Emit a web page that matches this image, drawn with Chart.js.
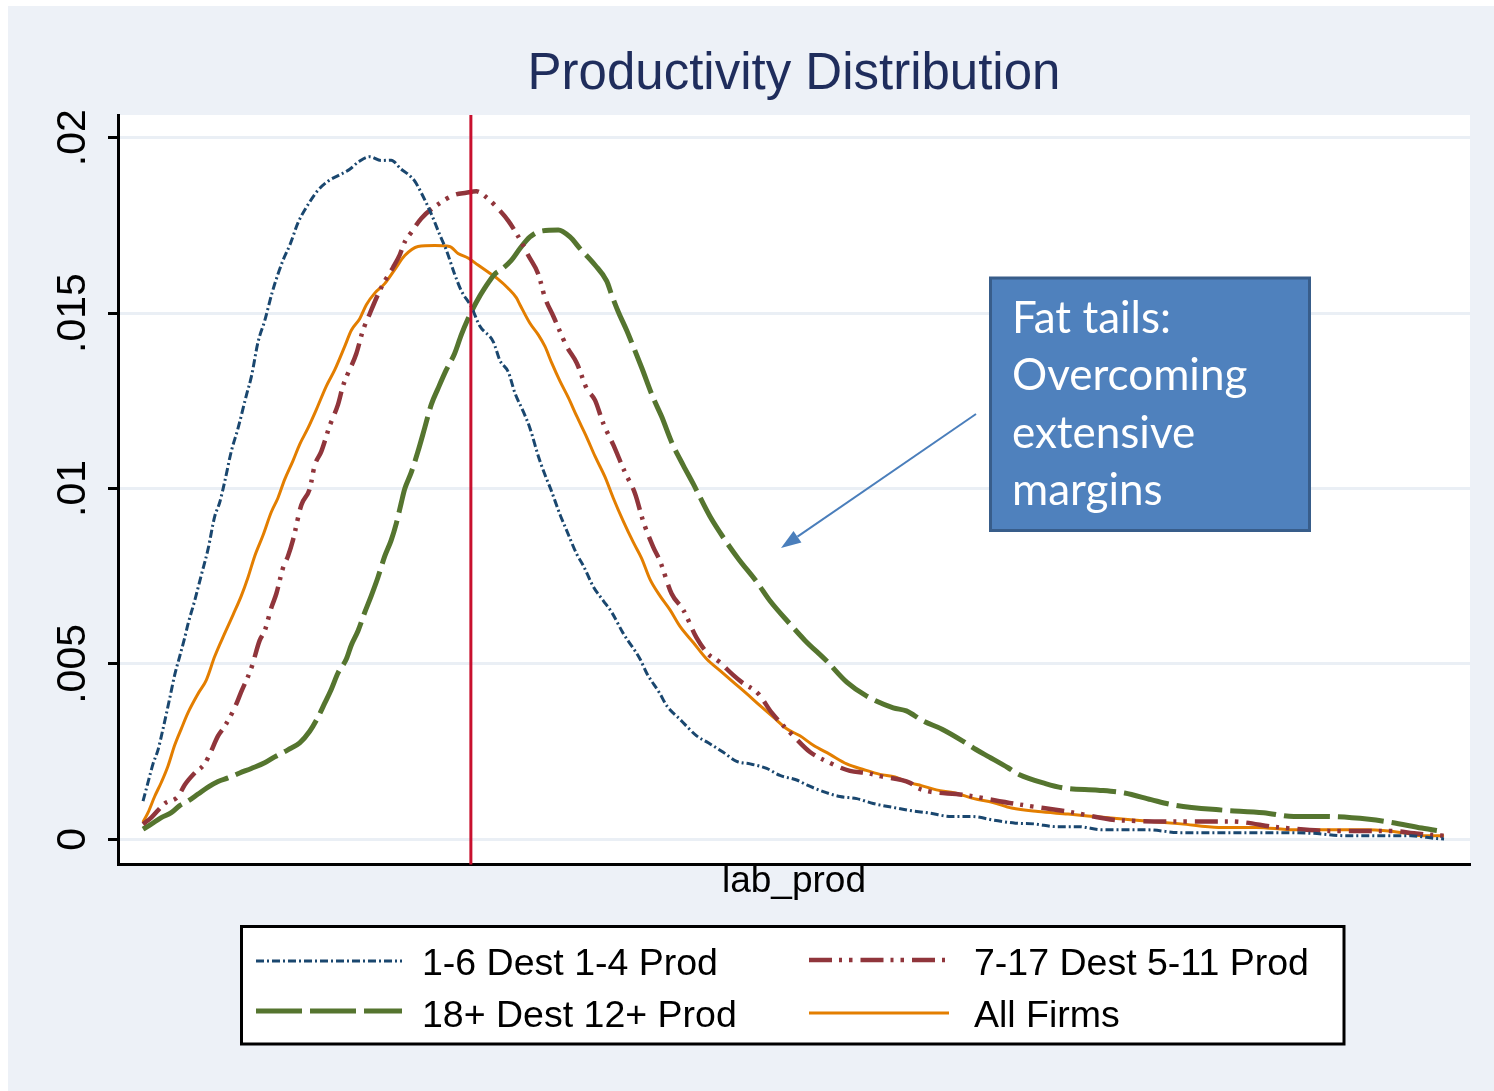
<!DOCTYPE html>
<html><head><meta charset="utf-8">
<script src="https://cdn.jsdelivr.net/npm/chart.js@4.4.1/dist/chart.umd.min.js"></script>
<style>
html,body{margin:0;padding:0;background:#fff;width:1494px;height:1091px;overflow:hidden}
#bg{position:absolute;left:8px;top:6px;width:1486px;height:1085px;background:#edf1f7}
#c{position:absolute;left:0;top:0}
#ov{position:absolute;left:0;top:0;pointer-events:none}
</style></head><body>
<div id="bg"></div>
<canvas id="c" width="1494" height="1091"></canvas>
<svg id="ov" width="1494" height="1091" xmlns="http://www.w3.org/2000/svg"></svg>
<script>
// ---------- DATA ----------
const chartTitle = "Productivity Distribution";
const xTitle = "lab_prod";
const xMin = 0, xMax = 100;
const yMin = -0.000718, yMax = 0.020647;
const yTicks = [0, 0.005, 0.01, 0.015, 0.02];
const yTickLabels = ["0", ".005", ".01", ".015", ".02"];
const redLineX = 26.1;
const seriesLabels = ["1-6 Dest 1-4 Prod", "7-17 Dest 5-11 Prod", "18+ Dest 12+ Prod", "All Firms"];
const annotationLines = ["Fat tails:", "Overcoming", "extensive", "margins"];

const blueX = [1.85,2.22,2.59,2.96,3.33,3.82,4.19,4.56,4.93,5.18,5.67,6.16,6.66,7.15,7.52,7.89,8.38,8.88,9.49,9.86,10.36,10.85,11.39,11.83,12.20,12.74,13.31,14.18,14.79,15.53,16.40,17.14,17.75,18.62,19.47,20.21,20.95,21.45,21.95,22.43,23.17,23.79,24.28,24.90,25.39,26.13,26.75,27.76,28.25,28.87,29.36,29.98,30.47,31.09,31.58,32.00,32.69,33.19,33.93,34.42,35.16,35.90,36.52,37.37,38.61,39.10,40.09,40.58,41.57,42.80,43.66,44.77,45.76,46.75,47.98,48.96,50.20,50.94,52.17,53.40,54.64,55.86,57.60,58.58,59.99,61.65,63.17,64.72,66.38,67.75,69.45,71.08,72.78,76.11,78.62,82.77,85.87,88.39,90.87,95.60,97.56,98.08];
const blueY = [.00109,.00162,.00215,.00255,.00315,.00401,.00468,.00521,.00574,.00614,.0068,.00753,.00827,.0092,.0096,.01019,.01106,.01172,.01265,.01318,.01418,.01478,.01557,.01611,.0165,.01697,.01757,.01817,.0185,.01876,.01894,.0191,.0193,.01946,.01935,.01936,.0191,.01896,.01876,.01843,.01783,.01724,.0168,.01611,.01564,.01518,.01464,.01418,.01365,.01332,.01272,.01219,.01172,.01092,.01039,.00999,.00926,.0088,.00813,.0078,.0072,.0068,.00647,.00587,.00514,.00474,.00415,.00381,.00342,.00295,.00275,.00248,.00222,.00215,.00202,.00182,.00169,.00155,.00136,.00122,.00116,.00102,.00089,.00082,.00075,.00065,.00065,.00055,.00046,.00044,.00036,.00036,.00027,.00027,.00019,.00019,.00019,.00017,.0001,.0001,.00002,.00001];

const redX = [1.85,2.46,3.45,4.44,4.93,5.67,6.41,6.78,7.40,7.89,8.63,9.12,9.86,10.48,10.85,11.34,11.71,12.20,12.57,12.94,13.56,14.18,14.55,15.04,15.66,16.27,16.64,17.63,18.12,18.62,19.36,19.73,20.34,20.84,21.21,21.69,22.43,23.67,24.90,25.76,26.50,27.37,28.13,28.87,29.73,30.35,31.09,31.58,32.20,33.19,33.93,34.67,35.28,35.90,36.63,37.50,38.24,38.85,39.59,40.09,40.95,41.81,42.80,43.66,44.40,45.51,46.13,47.36,48.35,49.95,51.18,52.42,54.14,55.38,56.36,58.58,59.14,62.49,63.31,66.38,70.27,74.17,78.62,82.25,85.87,89.76,94.21,95.86,98.08];
const redY = [.00043,.00062,.00102,.00122,.00155,.00189,.00215,.00242,.00295,.00322,.00375,.00421,.00488,.00567,.00594,.0066,.007,.00773,.00807,.00853,.00953,.00999,.01066,.01106,.01179,.01239,.01292,.01385,.01451,.01498,.01564,.01591,.0163,.01666,.01703,.0173,.0177,.0181,.01837,.01843,.01847,.01826,.01797,.01763,.0171,.01664,.01611,.01544,.01491,.01405,.01358,.01285,.01252,.01185,.01125,.01046,.00986,.00906,.00833,.00793,.007,.00654,.00574,.00528,.00508,.00468,.00448,.00415,.00361,.00295,.00249,.00222,.00195,.00189,.0018,.00161,.00146,.00127,.00122,.00101,.00079,.00054,.00051,.00051,.00034,.00024,.00024,.00017,.0001];

const greenX = [1.85,2.46,3.20,3.94,4.56,5.18,5.92,6.66,7.40,8.14,9.00,9.86,10.85,11.59,12.57,13.44,14.18,14.79,15.29,15.78,16.27,16.89,17.26,17.75,18.25,18.73,19.23,19.73,20.21,20.58,20.95,21.21,21.69,22.19,22.68,23.17,23.67,24.28,24.90,25.39,25.89,26.50,27.12,27.86,28.35,29.09,29.73,30.47,31.21,32.57,33.43,34.17,35.28,36.15,36.52,37.00,37.62,38.11,38.73,39.59,40.21,40.95,41.81,42.55,43.79,44.90,45.88,47.24,48.22,49.70,50.81,52.42,53.90,55.38,57.34,58.31,59.56,60.95,62.49,63.46,64.42,65.83,66.64,68.60,70.00,72.49,74.45,76.41,78.07,81.41,84.74,86.98,89.20,92.53,94.21,96.43,98.08];
const greenY = [.00029,.00043,.00062,.00076,.00096,.00109,.00129,.00149,.00165,.00175,.00189,.00202,.00218,.00235,.00255,.00275,.00308,.00348,.00388,.00428,.00474,.00514,.00554,.00594,.00647,.00694,.00747,.00807,.00853,.009,.00959,.00999,.01046,.01106,.01172,.01239,.01285,.01338,.01385,.01438,.01484,.01531,.01571,.01611,.01624,.0165,.01684,.01717,.01733,.01737,.01717,.01684,.01637,.01591,.01551,.01504,.01451,.01405,.01345,.01258,.01205,.01132,.01066,.01013,.0092,.00853,.008,.00734,.0068,.00614,.00567,.00508,.00448,.00408,.00375,.00366,.00337,.00314,.0028,.00256,.00235,.00204,.00185,.00159,.00146,.0014,.00132,.00113,.00098,.00084,.00076,.00065,.00065,.00057,.00048,.00032,.00022];

const orangeX = [1.85,2.22,2.71,3.20,3.70,4.19,4.68,5.18,5.92,6.53,7.15,7.89,8.51,9.12,9.62,10.11,10.72,11.34,11.83,12.33,12.94,13.44,14.05,14.67,15.41,16.03,16.77,17.26,17.88,18.37,18.99,19.73,20.47,21.21,22.19,23.42,24.53,25.15,25.89,26.63,27.37,28.11,28.85,29.46,29.73,30.47,31.09,31.58,32.08,32.69,33.31,33.93,34.67,35.28,36.02,36.63,37.37,38.11,38.73,39.35,40.09,40.83,41.57,42.55,43.54,44.53,45.51,46.50,47.49,48.47,49.46,50.44,51.43,52.66,53.90,55.13,56.36,57.47,58.58,59.42,60.53,61.91,63.31,64.72,66.10,68.05,70.27,73.05,75.81,78.62,81.41,84.17,86.98,92.53,95.32,96.43,98.08];
const orangeY = [.00049,.00076,.00122,.00162,.00209,.00268,.00315,.00361,.00415,.00454,.00521,.00587,.0064,.00694,.00747,.00807,.00866,.00933,.00973,.01026,.01079,.01126,.01172,.01225,.01292,.01338,.01405,.01451,.01484,.01524,.01557,.01584,.01624,.01664,.0169,.01693,.0169,.0167,.01657,.01637,.01617,.01597,.01571,.01544,.01524,.01471,.01438,.01405,.01358,.01306,.01259,.01206,.01146,.01092,.01033,.00973,.00907,.00847,.00801,.00741,.00694,.00654,.00607,.00561,.00514,.00481,.00448,.00415,.00381,.00348,.00315,.00295,.00268,.00242,.00215,.00199,.00185,.00178,.00161,.00153,.00141,.00132,.00116,.00105,.00089,.00079,.00072,.00062,.00053,.00044,.00034,.00034,.00027,.00027,.00017,.0001,.0001];

// ---------- STYLES ----------
const styles = [
  {color:'#1a476f', width:3, dash:[8,3,2,3]},
  {color:'#90353b', width:4.5, dash:[23,7,3,7,3.5,8]},
  {color:'#55752f', width:5, dash:[46,8]},
  {color:'#e37e00', width:3, dash:[]}
];
const xs = [blueX, redX, greenX, orangeX];
const ys = [blueY, redY, greenY, orangeY];

const datasets = seriesLabels.map((lab, k) => ({
  label: lab,
  data: xs[k].map((x, i) => ({x: x, y: ys[k][i]})),
  borderColor: styles[k].color,
  borderWidth: styles[k].width,
  borderDash: styles[k].dash,
  borderCapStyle: 'butt',
  pointRadius: 0,
  fill: false,
  cubicInterpolationMode: 'monotone'
}));

const bgPlugin = {
  id: 'plotbg',
  afterLayout(chart) {
    if (chart.titleBlock) {
      chart.titleBlock.left = chart.chartArea.left;
      chart.titleBlock.right = chart.chartArea.right;
      chart.titleBlock.width = chart.chartArea.right - chart.chartArea.left;
    }
  },
  beforeDraw(chart) {
    const {ctx, chartArea: a} = chart;
    ctx.save(); ctx.fillStyle = '#ffffff';
    ctx.fillRect(a.left, a.top, a.right - a.left, a.bottom - a.top);
    ctx.restore();
  }
};
const refLinePlugin = {
  id: 'refline',
  afterDatasetsDraw(chart) {
    const {ctx, chartArea: a, scales} = chart;
    const px = scales.x.getPixelForValue(redLineX);
    ctx.save(); ctx.strokeStyle = '#c8102e'; ctx.lineWidth = 3;
    ctx.beginPath(); ctx.moveTo(px, a.top); ctx.lineTo(px, a.bottom); ctx.stroke();
    ctx.restore();
  }
};

const chart = new Chart(document.getElementById('c'), {
  type: 'line',
  data: {datasets: datasets},
  options: {
    responsive: false, animation: false, devicePixelRatio: 1,
    layout: {padding: {left: 0, right: 24, top: 0, bottom: 186.5}},
    plugins: {
      legend: {display: false}, tooltip: {enabled: false},
      title: {display: true, text: chartTitle, color: '#1f2d5c',
        font: {family: 'Liberation Sans', size: 51, weight: 'normal', lineHeight: 1.2},
        padding: {top: 44, bottom: 9.8}}
    },
    scales: {
      x: {type: 'linear', min: xMin, max: xMax,
        ticks: {display: false}, grid: {display: false, drawTicks: false},
        border: {display: true, color: '#000', width: 3},
        title: {display: true, text: xTitle, color: '#000',
          font: {family: 'Liberation Sans', size: 37}, padding: {top: 0, bottom: 1}},
        afterFit(s) { s.height = 40; }},
      y: {type: 'linear', min: yMin, max: yMax,
        afterBuildTicks(s) { s.ticks = yTicks.map(v => ({value: v})); },
        ticks: {autoSkip: false, minRotation: 90, maxRotation: 90, crossAlign: 'center', padding: -6,
          color: '#000', font: {family: "'Liberation Sans Narrow', 'Liberation Sans'", size: 41},
          callback: (v, i) => yTickLabels[i]},
        grid: {color: '#eaeff5', lineWidth: 3, tickColor: '#000', tickLength: 10, tickWidth: 3},
        border: {display: true, color: '#000', width: 3},
        afterFit(s) { s.width = 118; }}
    }
  },
  plugins: [bgPlugin, refLinePlugin]
});

// ---------- LEGEND + ANNOTATION (SVG overlay) ----------
const NS = 'http://www.w3.org/2000/svg';
const ov = document.getElementById('ov');
function el(tag, attrs, text) {
  const e = document.createElementNS(NS, tag);
  for (const k in attrs) e.setAttribute(k, attrs[k]);
  if (text != null) e.textContent = text;
  ov.appendChild(e); return e;
}
el('rect', {x: 241.5, y: 926.5, width: 1102.5, height: 117.5, fill: '#fff', stroke: '#000', 'stroke-width': 3});
const slots = [
  {x1: 256, x2: 402, ly: 961, tx: 422, ty: 975},
  {x1: 809, x2: 949, ly: 960, tx: 974, ty: 975},
  {x1: 256, x2: 402, ly: 1011, tx: 422, ty: 1027},
  {x1: 809, x2: 949, ly: 1013, tx: 974, ty: 1027}
];
chart.data.datasets.forEach((ds, k) => {
  const s = slots[k];
  const a = {x1: s.x1, x2: s.x2, y1: s.ly, y2: s.ly, stroke: ds.borderColor, 'stroke-width': ds.borderWidth};
  if (ds.borderDash && ds.borderDash.length) a['stroke-dasharray'] = ds.borderDash.join(' ');
  el('line', a);
  el('text', {x: s.tx, y: s.ty, fill: '#000', 'font-family': 'Liberation Sans, Arial, sans-serif', 'font-size': 37.5}, ds.label);
});

// arrow
const tail = [976, 414], tip = [781, 548];
const dx = tip[0] - tail[0], dy = tip[1] - tail[1], L = Math.hypot(dx, dy);
const ux = dx / L, uy = dy / L, hl = 20, hw = 7;
const bx = tip[0] - ux * hl, by = tip[1] - uy * hl;
el('line', {x1: tail[0], y1: tail[1], x2: bx, y2: by, stroke: '#4a7ebb', 'stroke-width': 2});
el('polygon', {points: `${tip[0]},${tip[1]} ${bx - uy * hw},${by + ux * hw} ${bx + uy * hw},${by - ux * hw}`, fill: '#4a7ebb'});

// callout box
el('rect', {x: 990.5, y: 278, width: 319, height: 252.5, fill: '#4f81bd', stroke: '#385d8a', 'stroke-width': 3});
annotationLines.forEach((t, i) => {
  el('text', {x: 1012, y: 333 + i * 57.4, fill: '#fff', 'font-family': 'Lato, Open Sans, sans-serif', 'font-size': 44}, t);
});
</script>
</body></html>
